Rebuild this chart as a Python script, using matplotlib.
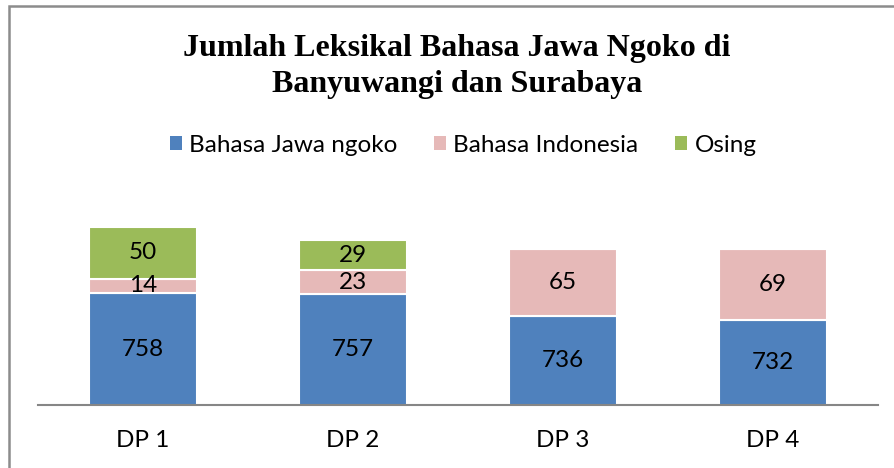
import numpy as np
import matplotlib.pyplot as plt
from matplotlib.patches import Patch, Rectangle

# data
categories = ['DP 1', 'DP 2', 'DP 3', 'DP 4']
jawa_ngoko = [758, 757, 736, 732]
indonesia = [14, 23, 65, 69]
osing = [50, 29, 0, 0]
series_names = ['Bahasa Jawa ngoko', 'Bahasa Indonesia', 'Osing']
colors = ['#4F81BD', '#E6B9B8', '#9BBB59']

W, H = 894, 468
fig = plt.figure(figsize=(W / 100, H / 100), dpi=100)
fig.patch.set_facecolor('white')

# chart frame (cut off at right and bottom like the source)
fig.patches.append(Rectangle((8.5 / W, -0.1), 1.2, (H - 6.5) / H + 0.1,
                             transform=fig.transFigure, fill=False,
                             edgecolor='#8c8c8c', linewidth=1.8))

ax = fig.add_axes([38 / W, (H - 405) / H, 840 / W, 207 / H])
ax.set_xlim(-0.5, 3.5)
ax.set_ylim(650, 850)

x = np.arange(len(categories))
w = 0.51
lab_font = 'Lato'
lab_size = 17.5

bottom = np.zeros(len(categories))
for vals, c in zip([jawa_ngoko, indonesia, osing], colors):
    vals = np.array(vals)
    ax.bar(x, vals, w, bottom=bottom, color=c, edgecolor='white',
           linewidth=1.5, zorder=3)
    for xi, b, v in zip(x, bottom, vals):
        if v > 0:
            # the blue segment starts below the axis minimum
            lo = max(b, 650)
            ax.text(xi, (lo + b + v) / 2, str(v), ha='center', va='center',
                    fontsize=lab_size, family=lab_font, color='black', zorder=4)
    bottom = bottom + vals

for s in ['top', 'right', 'left']:
    ax.spines[s].set_visible(False)
ax.spines['bottom'].set_color('#868686')
ax.spines['bottom'].set_linewidth(1.5)
ax.spines['bottom'].set_zorder(5)
ax.set_yticks([])
ax.set_xticks(x)
ax.set_xticklabels(categories, fontsize=lab_size, family=lab_font)
ax.tick_params(axis='x', length=0, pad=18)

# title
fig.text(457 / W, 1 - 56 / H, 'Jumlah Leksikal Bahasa Jawa Ngoko di',
         ha='center', va='baseline', fontsize=23, fontweight='bold',
         family='Liberation Serif')
fig.text(457 / W, 1 - 92 / H, 'Banyuwangi dan Surabaya',
         ha='center', va='baseline', fontsize=23, fontweight='bold',
         family='Liberation Serif')

handles = [Patch(facecolor=c, edgecolor='none') for c in colors]
leg = fig.legend(handles, series_names, loc='center', ncol=3,
                 bbox_to_anchor=(463 / W, 1 - 145 / H), frameon=False,
                 prop={'family': lab_font, 'size': lab_size},
                 handlelength=0.5, handleheight=0.5, handletextpad=0.3,
                 columnspacing=1.5)

fig.savefig('out.png', dpi=100)
